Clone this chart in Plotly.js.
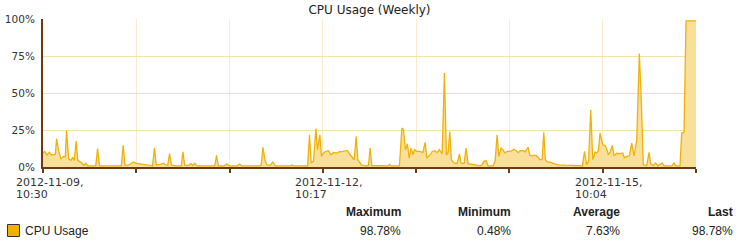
<!DOCTYPE html>
<html>
<head>
<meta charset="utf-8">
<script src="https://cdn.plot.ly/plotly-3.0.1.min.js"></script>
<style>html,body{margin:0;padding:0;background:#fff;}#chart{width:745px;height:247px;}</style>
</head>
<body>
<div id="chart"></div>
<script>
// ---- data ----
var startTime = "2012-11-09 10:30";
var spanHours = 167.34; // visible time span of the axis
var hoursSinceStart = [0,0.46,1.02,1.61,2.13,2.64,3.15,3.48,4.0,4.61,5.2,5.71,6.04,6.56,7.17,7.58,8.02,8.5,8.91,9.55,10.14,10.58,11.01,11.48,13.52,13.99,14.47,20.06,20.54,21.0,21.85,22.62,23.21,23.9,24.92,25.77,27.49,28.07,28.56,29.02,30.05,30.89,31.58,31.97,32.43,32.92,33.89,35.43,35.86,36.32,37.22,37.91,38.42,38.94,39.4,44.01,44.47,44.95,46.44,47.13,47.72,49.77,50.36,50.92,55.41,55.92,56.35,56.89,57.45,58.22,58.91,59.5,63.35,63.78,64.24,67.83,68.29,68.73,69.31,69.93,70.34,70.95,71.36,71.88,72.49,73.16,73.77,74.44,75.31,75.97,76.85,77.43,78.02,78.54,79.15,79.74,80.25,80.69,81.28,81.71,82.99,83.4,83.84,84.27,88.45,88.78,89.14,91.34,91.96,92.37,92.88,93.39,93.83,94.34,94.78,95.19,95.8,96.65,97.34,97.93,98.36,99.21,99.72,100.41,101.0,101.59,102.28,102.87,103.38,103.82,104.25,104.66,105.28,106.12,106.71,107.15,107.91,108.43,108.94,109.78,110.73,112.01,112.53,112.96,113.55,114.06,115.34,115.86,116.37,116.8,117.39,117.9,118.34,118.93,119.77,120.65,121.23,121.75,122.34,123.03,123.62,124.31,124.74,125.33,126.03,126.61,127.31,127.9,128.33,128.74,129.18,129.95,130.89,131.99,133.86,138.22,138.78,139.29,139.81,140.37,140.88,141.47,141.91,142.32,142.75,143.44,144.03,144.47,144.88,145.31,145.9,146.34,147.03,147.88,148.57,148.98,149.59,150.26,150.87,151.46,152.15,152.82,153.25,153.84,154.71,155.3,155.74,156.4,157.02,157.53,158.71,159.22,161.19,161.71,162.14,163.24,163.67,164.27,164.78,167.34];
var cpuUsage = [9.5,10.5,8,10,8.3,8.5,8.5,19,11,5.5,7,7,24.5,5.5,4.5,6.5,4.5,17.5,4.5,3.5,2.5,1.2,2.5,0.8,0.8,12.4,0.8,0.8,14.6,1.2,1.2,2.5,3.4,2.5,2,1.5,0.8,0.8,13,1.5,1.8,2.5,1.2,1.2,9,1.5,0.8,0.8,10.3,1.2,1,2.3,1,2.5,0.8,0.8,7.8,0.8,0.8,2.2,0.8,0.8,2,0.8,0.8,1.5,13.3,4.5,1.2,1.2,3.3,0.8,0.8,1.3,0.8,0.8,21.8,2.7,4,25.9,11.7,21.8,7.2,9.5,10.5,11,8.3,9.8,9.4,10.3,10.5,10.6,11.2,8.9,7.2,4.9,20.7,4.8,2.7,1.2,0.8,1.2,12.8,1,0.8,1.8,0.8,0.8,26.4,25,11.7,15.7,6,12.8,8.3,11.7,10.5,10.5,9.8,16.6,6,8.3,10.5,11,9.7,11.7,8.9,63.5,8,10,24,4.9,2.7,2.4,8.8,2.5,2.5,12.8,2.3,1.8,1.2,0.8,1.5,3.8,4.3,0.8,0.8,4,21.8,7.2,12.8,11.7,9.5,10.5,10.5,12,11.2,9.7,11,11,10.2,13.5,8,7.5,8,7.4,5,5,23.4,5,3.6,3.3,2.3,1.5,1.2,0.8,10.5,1.5,4,38.7,5,10,9.5,11,23,15,14.6,12,8.3,10,14.6,7.5,9.3,9,9.5,6.3,7.2,7.5,16.2,7.5,18,76.6,50,1.5,1,9.9,2,1,2.7,0.8,2.7,0.8,0.8,2.7,0.8,0.8,23,23.4,98.8,98.78];
var tickCount = 8;
var tickDateLabels = ["2012-11-09,", "2012-11-12,", "2012-11-15,"];
var tickTimeLabels = ["10:30", "10:17", "10:04"];
var tickLabelIndex = [0, 3, 6];
var yTicks = [0, 25, 50, 75, 100];
var yTickLabels = ["0%", "25%", "50%", "75%", "100%"];
var seriesName = "CPU Usage";
var statHeaders = ["Maximum", "Minimum", "Average", "Last"];
var statValues = ["98.78%", "0.48%", "7.63%", "98.78%"];

if (hoursSinceStart.length !== cpuUsage.length) {
  throw new Error("length mismatch " + hoursSinceStart.length + " vs " + cpuUsage.length);
}

// ---- build ----
var t0 = new Date(startTime.replace(" ", "T") + ":00Z").getTime();
function toDate(h) {
  var d = new Date(t0 + h * 3600000);
  return d.toISOString().replace("T", " ").replace("Z", "");
}
var xs = hoursSinceStart.map(toDate);
var tickVals = [];
for (var k = 0; k < tickCount; k++) tickVals.push(toDate(spanHours * k / (tickCount - 1)));

var W = 745, H = 247;
var M = {l: 43, r: 49, t: 19, b: 80};
var PW = W - M.l - M.r, PH = H - M.t - M.b;
function px(x) { return (x - M.l) / PW; }
function py(y) { return (M.t + PH - y) / PH; }

var brown = "#6b3a12";
var textColor = "#333333";
var annotations = [];
tickLabelIndex.forEach(function (ti, i) {
  annotations.push({xref: "x", yref: "paper", x: tickVals[ti], y: py(182), xanchor: "left", yanchor: "middle",
    xshift: -29.5, text: tickDateLabels[i], showarrow: false, align: "left",
    font: {family: "DejaVu Sans, Verdana, sans-serif", size: 11, color: textColor}});
  annotations.push({xref: "x", yref: "paper", x: tickVals[ti], y: py(194), xanchor: "left", yanchor: "middle",
    xshift: -29.5, text: tickTimeLabels[i], showarrow: false, align: "left",
    font: {family: "DejaVu Sans, Verdana, sans-serif", size: 11, color: textColor}});
});
var statRight = [403, 513, 622, 735];
statHeaders.forEach(function (h, i) {
  annotations.push({xref: "paper", yref: "paper", x: px(statRight[i]), y: py(212), xanchor: "right", yanchor: "middle",
    text: "<b>" + h + "</b>", showarrow: false,
    font: {family: "Liberation Sans, Arial, sans-serif", size: 12, color: "#222"}});
  annotations.push({xref: "paper", yref: "paper", x: px(statRight[i]), y: py(231), xanchor: "right", yanchor: "middle",
    text: statValues[i], showarrow: false,
    font: {family: "Liberation Sans, Arial, sans-serif", size: 12, color: "#222"}});
});
annotations.push({xref: "paper", yref: "paper", x: px(23), y: py(231), xanchor: "left", yanchor: "middle",
  text: seriesName, showarrow: false,
  font: {family: "Liberation Sans, Arial, sans-serif", size: 12, color: "#222"}});

var shapes = [{type: "rect", xref: "paper", yref: "paper", x0: px(7.5), x1: px(19.5), y0: py(236.5), y1: py(224.5),
  fillcolor: "#f0b000", line: {color: "#333", width: 1}}];

var trace = {
  type: "scatter", mode: "lines", x: xs, y: cpuUsage, name: seriesName,
  fill: "tozeroy", fillcolor: "#f8df9a",
  line: {color: "#f0b20a", width: 1.3}, hoverinfo: "x+y"
};

var layout = {
  width: W, height: H, margin: M,
  paper_bgcolor: "#ffffff", plot_bgcolor: "#ffffff",
  showlegend: false,
  title: {text: "CPU Usage (Weekly)", x: 0.5, xref: "paper", y: 1 - 10 / H, yref: "container", yanchor: "middle",
    font: {family: "DejaVu Sans, Verdana, sans-serif", size: 12, color: "#222"}},
  xaxis: {type: "date", range: [toDate(0), toDate(spanHours)], tickmode: "array", tickvals: tickVals,
    showticklabels: false, ticks: "outside", ticklen: 4, tickwidth: 2, tickcolor: brown,
    showline: true, linecolor: brown, linewidth: 2, showgrid: true, gridcolor: "#f9ebcc", gridwidth: 1,
    zeroline: false, fixedrange: true},
  yaxis: {range: [0, 100], tickmode: "array", tickvals: yTicks, ticktext: yTickLabels, ticks: "",
    ticklabelstandoff: 4,
    tickfont: {family: "DejaVu Sans, Verdana, sans-serif", size: 10.5, color: textColor},
    showline: true, linecolor: brown, linewidth: 2, showgrid: true, gridcolor: "#f6e1a8", gridwidth: 1,
    zeroline: false, fixedrange: true},
  annotations: annotations,
  shapes: shapes
};

Plotly.newPlot("chart", [trace], layout, {displayModeBar: false, staticPlot: true});
</script>
</body>
</html>
